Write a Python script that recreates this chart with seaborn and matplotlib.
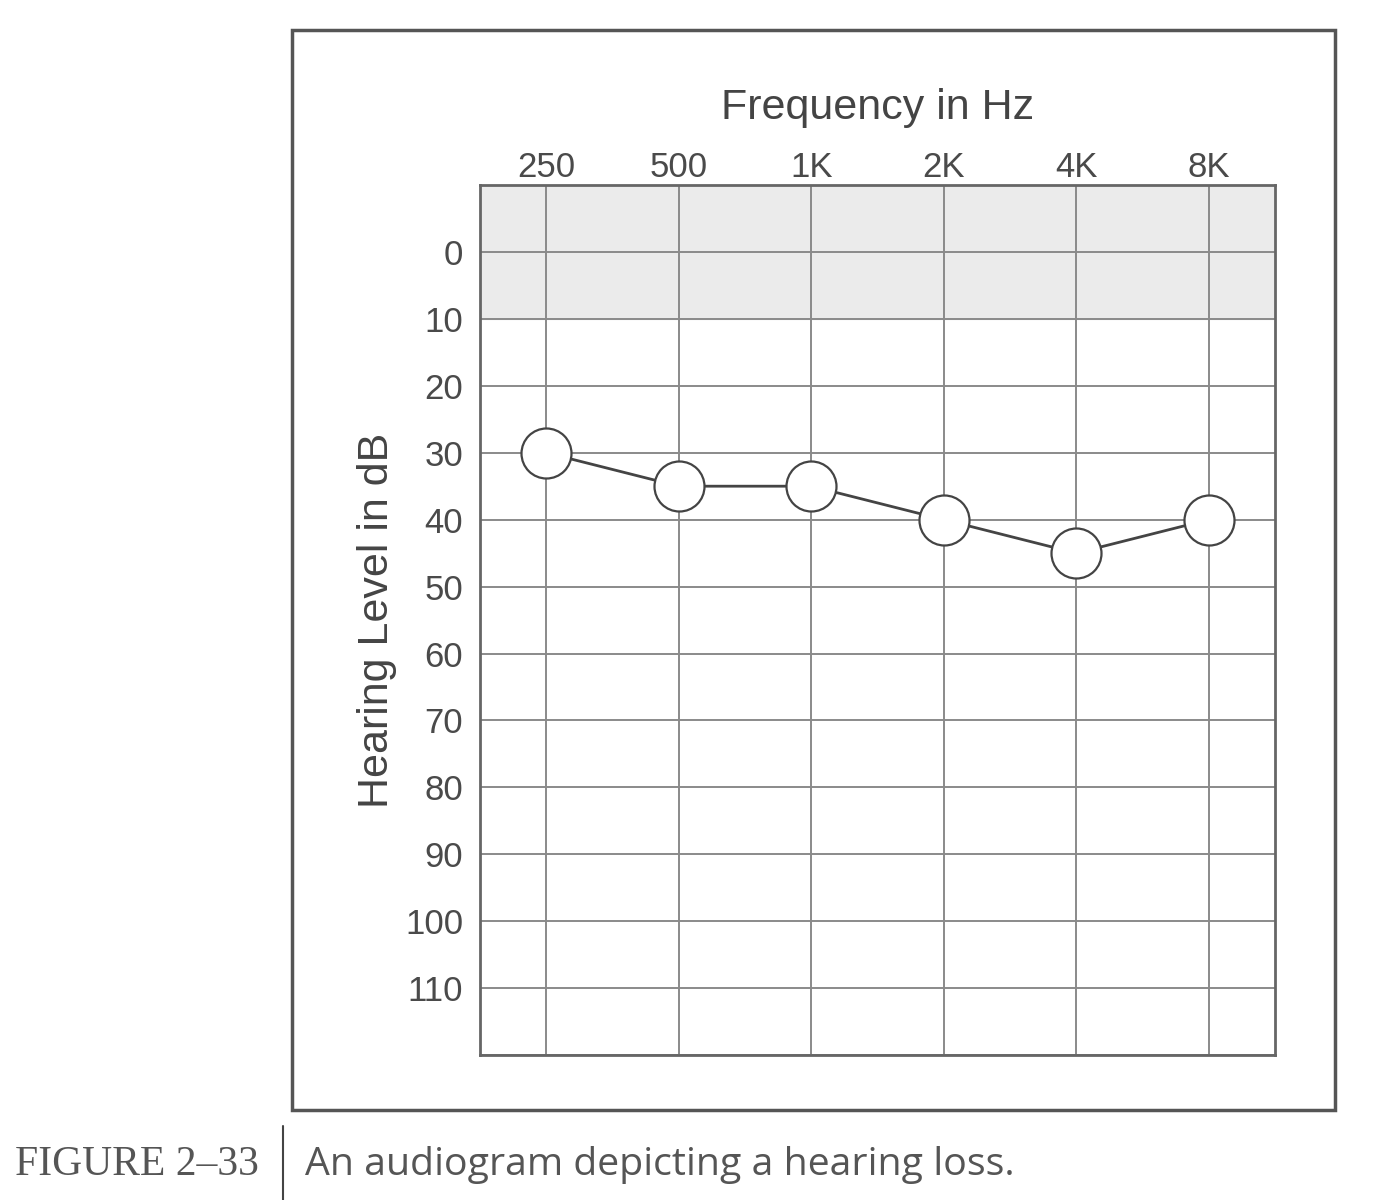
import seaborn as sns
import matplotlib.pyplot as plt
import matplotlib.patches as mpatches
import pandas as pd

# Audiogram values
freq_labels = ["250", "500", "1K", "2K", "4K", "8K"]
hearing_db = [30, 35, 35, 40, 45, 40]
db_ticks = [0, 10, 20, 30, 40, 50, 60, 70, 80, 90, 100, 110]
normal_band = (-10, 10)

df = pd.DataFrame({"pos": range(len(freq_labels)), "db": hearing_db})

sns.set_style("white")
plt.rcParams["font.family"] = ["Liberation Sans Narrow", "Liberation Sans", "DejaVu Sans"]

fig = plt.figure(figsize=(13.88, 12), dpi=100)
ax = fig.add_axes([0.3458, 0.1208, 0.5728, 0.725])

grey = "#4a4a4a"
ax.axhspan(*normal_band, color="#ebebeb", zorder=0)

sns.lineplot(data=df, x="pos", y="db", ax=ax, color="#444444", linewidth=2,
             marker="o", markersize=36, markerfacecolor="white",
             markeredgecolor="#444444", markeredgewidth=1.6, zorder=3)

ax.set_xlim(-0.5, len(freq_labels) - 0.5)
ax.set_ylim(120, -10)
ax.set_xticks(range(len(freq_labels)))
ax.set_xticklabels(freq_labels)
ax.set_yticks(db_ticks)
ax.set_yticks(range(-10, 121, 10), minor=True)
ax.xaxis.tick_top()
ax.xaxis.set_label_position("top")
ax.tick_params(axis="both", length=0, labelsize=25, labelcolor=grey)
ax.tick_params(axis="x", pad=1)
ax.tick_params(axis="y", pad=12)
ax.grid(True, which="both", color="#8a8a8a", linewidth=1.4, zorder=1)
ax.set_axisbelow(True)
for s in ax.spines.values():
    s.set_color("#666666")
    s.set_linewidth(2)

ax.set_xlabel("Frequency in Hz", fontsize=31, color="#444444", labelpad=23,
              family=["Liberation Sans", "DejaVu Sans"])
ax.set_ylabel("Hearing Level in dB", fontsize=31, color="#444444", labelpad=6,
              family=["Liberation Sans", "DejaVu Sans"])

# outer frame
fig.patches.append(mpatches.Rectangle((0.2104, 0.075), 0.7515, 0.9, transform=fig.transFigure,
                                      fill=False, edgecolor="#555555", linewidth=2.5))

# caption
fig.text(0.011, 0.029, "FIGURE 2–33", fontsize=30, color="#555555", va="center",
         family=["Liberation Serif", "DejaVu Serif"])
fig.add_artist(plt.Line2D([0.204, 0.204], [0.0, 0.062], color="#444444", linewidth=1.5))
fig.text(0.22, 0.029, "An audiogram depicting a hearing loss.", fontsize=28.3, color="#555555",
         va="center", family=["Open Sans", "DejaVu Sans"])

fig.savefig("out.png", dpi=100)
